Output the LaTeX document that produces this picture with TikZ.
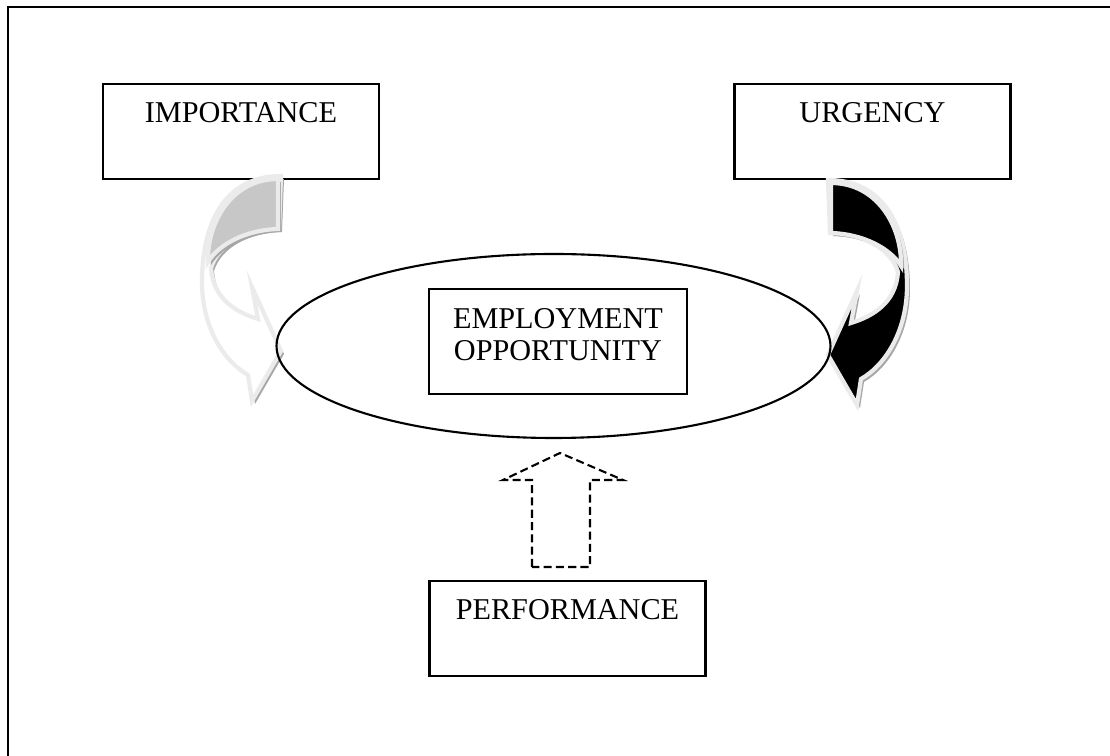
\documentclass[tikz,border=0pt]{standalone}
\usepackage{fontspec}
\setmainfont{Liberation Serif}
\usetikzlibrary{shapes.geometric}

\begin{document}
\begin{tikzpicture}[
    every node/.style={font=\fontsize{8.6}{9}\selectfont},
    box/.style={draw, line width=0.6pt, minimum width=2.76cm, minimum height=0.95cm, text depth=11pt},
    ribbon/.style={draw=black!8, line width=1.2pt},
    shade/.style={preaction={fill=black!35, transform canvas={xshift=0.03cm, yshift=-0.03cm}}},
    blockdash/.style={dash pattern=on 2.3pt off 1.2pt, line width=0.6pt}
  ]
  \useasboundingbox (0,0) rectangle (11.1,7.56);
  \draw[line width=0.6pt] (0.08,0) -- (0.08,7.49) -- (11.1,7.49);

  \node[box] (imp) at (2.41,6.245) {IMPORTANCE};
  \node[box] (urg) at (8.725,6.245) {URGENCY};
  \node[box] (perf) at (5.675,1.275) {PERFORMANCE};

  % curved arrows, the right one is the left one mirrored
  \foreach \mx/\dx/\dy/\tone/\band in {1/0/0/black!22/white, -1/11.09/-0.04/black/black} {
    \begin{scope}[xshift=\dx cm, yshift=\dy cm, xscale=\mx]
      \path[ribbon, shade, fill=\band] (2.81,5.80) .. controls (2.28,5.80) and (2.02,5.38) .. (2.02,4.74)
        .. controls (2.02,4.31) and (2.22,3.96) .. (2.48,3.81) -- (2.52,3.55) -- (2.81,4.05)
        -- (2.52,4.69) -- (2.58,4.37) .. controls (2.35,4.44) and (2.13,4.58) .. (2.11,4.88)
        .. controls (2.18,5.11) and (2.45,5.26) .. (2.79,5.27) -- cycle;
      \path[ribbon, shade, fill=\tone] (2.78,5.77) .. controls (2.32,5.77) and (2.07,5.34) .. (2.08,4.94)
        .. controls (2.18,5.11) and (2.45,5.26) .. (2.78,5.27) -- cycle;
    \end{scope}
  }

  \node[draw, ellipse, line width=0.6pt, minimum width=5.54cm, minimum height=1.84cm, inner sep=0pt] (oval) at (5.535,4.10) {};
  \node[draw, line width=0.6pt, align=center, minimum width=2.58cm, minimum height=1.05cm, text depth=4pt] (emp) at (5.58,4.145) {EMPLOYMENT\\OPPORTUNITY};

  % dashed block arrow from performance up to the oval
  \draw[blockdash] (5.32,1.89) -- (5.32,2.76) -- (5.03,2.76) -- (5.60,3.03) -- (6.23,2.76)
    -- (5.90,2.76) -- (5.90,1.89) -- cycle;
\end{tikzpicture}
\end{document}
